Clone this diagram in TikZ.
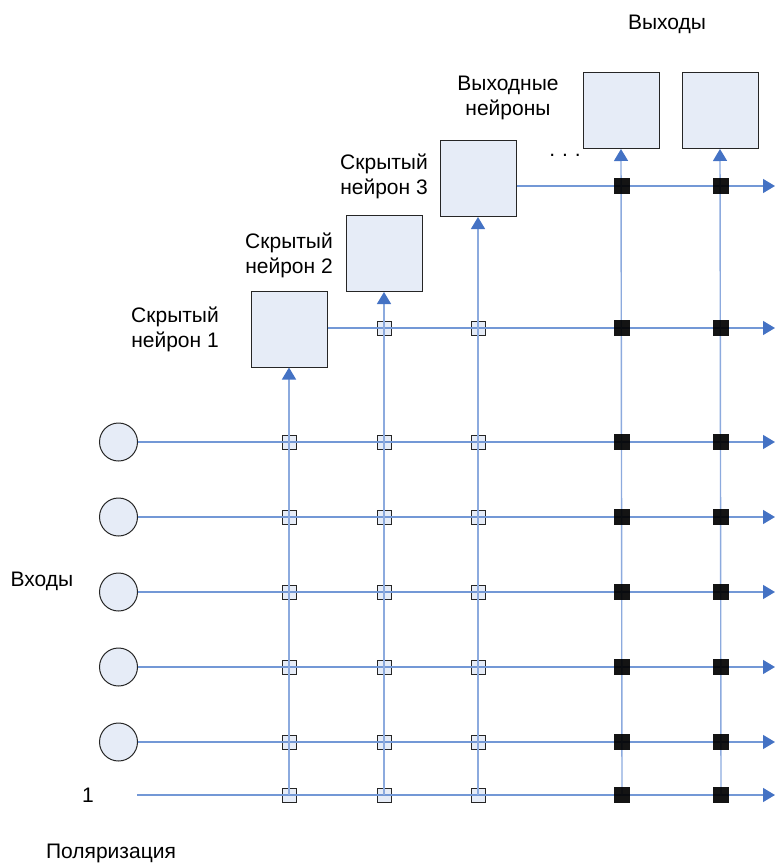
\documentclass[tikz,border=0pt]{standalone}
\usepackage{fontspec}
\setmainfont{Liberation Sans}
\usetikzlibrary{arrows.meta}
\definecolor{cellfill}{RGB}{230,236,247}
\definecolor{rowblue}{RGB}{115,152,214}
\definecolor{colblue}{RGB}{140,170,222}
\definecolor{tipblue}{RGB}{68,114,196}
\begin{document}
\begin{tikzpicture}[x=1pt,y=-1pt,
  lbl/.style={font=\fontsize{21}{25}\selectfont, align=center, inner sep=0pt},
  neuron/.style={draw=black!85, fill=cellfill, line width=1pt, minimum size=76pt, inner sep=0pt},
  src/.style={circle, draw=black!85, fill=cellfill, line width=1pt, minimum size=38pt, inner sep=0pt},
  wlight/.style={draw=black!85, fill=cellfill, line width=0.9pt, minimum size=14pt, inner sep=0pt},
  wdark/.style={fill=black, fill opacity=0.92, minimum size=16pt, inner sep=0pt},
  tip/.style={-{Triangle[width=14pt,length=12pt,color=tipblue]}},
  rowline/.style={draw=rowblue, line width=1.4pt, tip},
  colline/.style={draw=colblue, line width=1.4pt, tip},
]
\useasboundingbox (0,0) rectangle (776,864);

% weight cells of the hidden-neuron columns
\foreach \r/\y in {1/442,2/517,3/592,4/667,5/742,b/795} {
  \foreach \c/\x in {1/289,2/384,3/478}
    \node[wlight] (w-\r-\c) at (\x,\y) {};
}
\foreach \c/\x in {2/384,3/478}
  \node[wlight] (w-h-\c) at (\x,328) {};

% neurons
\node[neuron] (H1) at (289,329) {};
\node[neuron] (H2) at (384,253.5) {};
\node[neuron] (H3) at (478,178.5) {};
\node[neuron] (O1) at (621,110.5) {};
\node[neuron] (O2) at (720,110.5) {};

% inputs
\foreach \r/\y in {1/442,2/517,3/592,4/667,5/742}
  \node[src] (in\r) at (118.5,\y) {};

% free ends of the row lines
\foreach \r/\y in {t/186,h/328,1/442,2/517,3/592,4/667,5/742,b/795}
  \coordinate (e\r) at (775,\y);
\coordinate (bias) at (137,795);
\foreach \c/\x in {4/622,5/721}
  \coordinate (foot\c) at (\x,795);

% row lines
\foreach \r in {1,2,3,4,5}
  \draw[rowline] (in\r.east) -- (e\r);
\draw[rowline] (bias) -- (eb);
\draw[rowline] (H1.east |- eh) -- (eh);
\draw[rowline] (H3.east |- et) -- (et);

% column lines into the neurons
\draw[colline] (w-b-1.center) -- (H1.south);
\draw[colline] (w-b-2.center) -- (H2.south);
\draw[colline] (w-b-3.center) -- (H3.south);
\draw[colline] (foot4) -- (O1.south);
\draw[colline] (foot5) -- (O2.south);

% weight cells of the output-neuron columns
\foreach \r/\y in {t/186,h/328,1/442,2/517,3/592,4/667,5/742,b/795} {
  \foreach \c/\x in {4/622,5/721}
    \node[wdark] (w-\r-\c) at (\x,\y) {};
}

% labels
\node[lbl] (tOut) at (667,24) {Выходы};
\node[lbl] (tOutN) at (508,98) {Выходные\\нейроны};
\node[lbl] (tH3) at (384,176) {Скрытый\\нейрон 3};
\node[lbl] (tH2) at (289,255) {Скрытый\\нейрон 2};
\node[lbl] (tH1) at (175,329) {Скрытый\\нейрон 1};
\node[lbl, anchor=base] (tDots) at (565,156) {.\hspace{7pt}.\hspace{7pt}.};
\node[lbl] (tIn) at (42,581) {Входы};
\node[lbl] (tOne) at (88,795) {1};
\node[lbl] (tBias) at (111,853) {Поляризация};
\end{tikzpicture}
\end{document}
